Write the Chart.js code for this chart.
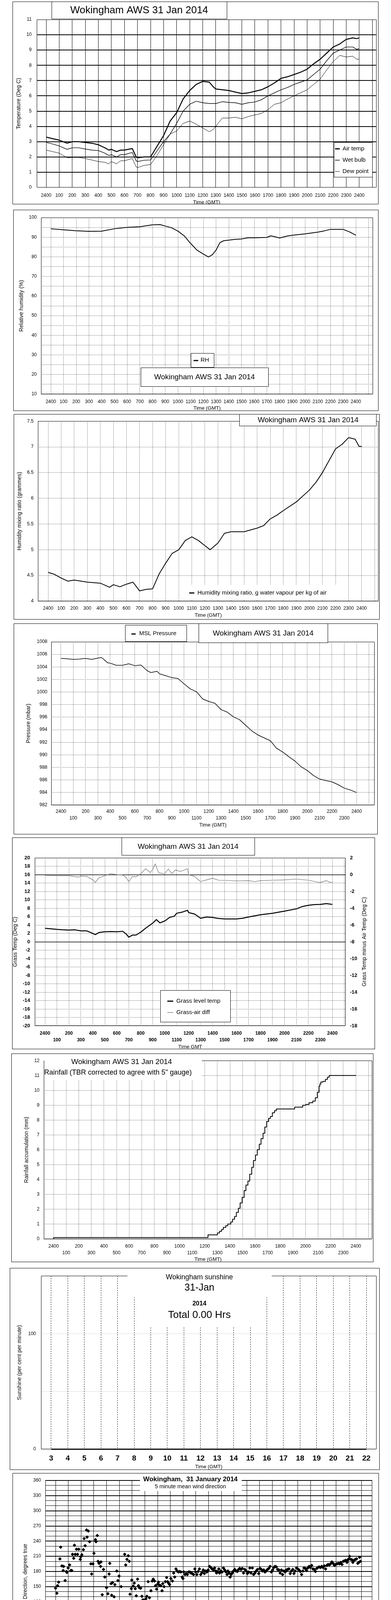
<!DOCTYPE html>
<html>
<head>
<meta charset="utf-8">
<title>Wokingham AWS 31 Jan 2014</title>
<script src="https://cdn.jsdelivr.net/npm/chart.js@4.4.1/dist/chart.umd.min.js"></script>
<style>
  html, body { margin: 0; padding: 0; background: #fff; overflow: hidden; }
  body { position: relative; width: 1000px; height: 5000px; }
  canvas { position: absolute; }
</style>
</head>
<body>
<script>
/* global Chart */
const FAMILY = "'Liberation Sans', Arial, Helvetica, sans-serif";
Chart.defaults.font.family = FAMILY;
Chart.defaults.font.size = 12;
Chart.defaults.color = '#000';
Chart.defaults.animation = false;
Chart.defaults.events = [];

// ---- 1. temperatures ----
const tempHours = [0, 0.5, 1, 1.6, 2, 2.5, 3, 3.5, 4, 4.5, 4.8, 5, 5.4, 5.7, 6, 6.6, 6.9, 7, 7.5, 8,
  8.5, 9, 9.5, 10, 10.5, 11, 11.5, 12, 12.5, 12.8, 13, 13.5, 14, 14.5, 15, 15.5, 16, 16.5, 17, 17.5,
  18, 18.5, 19, 19.5, 20, 20.5, 21, 21.5, 22, 22.5, 23, 23.5, 23.8, 24];
const airTemp = [3.3, 3.2, 3.1, 2.9, 3.0, 3.0, 2.95, 2.9, 2.8, 2.6, 2.45, 2.5, 2.35, 2.45, 2.45, 2.55, 2.0, 1.95, 2.0, 2.0,
  2.7, 3.4, 4.35, 4.9, 5.8, 6.35, 6.75, 6.95, 6.9, 6.6, 6.45, 6.4, 6.35, 6.25, 6.15, 6.2, 6.3, 6.4, 6.6, 6.85,
  7.15, 7.25, 7.4, 7.55, 7.75, 8.1, 8.4, 8.8, 9.2, 9.4, 9.7, 9.8, 9.75, 9.8];
const wetBulb = [2.95, 2.85, 2.72, 2.5, 2.6, 2.6, 2.52, 2.45, 2.42, 2.25, 2.1, 2.15, 2.0, 2.15, 2.15, 2.3, 1.75, 1.7, 1.78, 1.8,
  2.4, 3.0, 3.5, 4.2, 5.0, 5.45, 5.65, 5.55, 5.5, 5.5, 5.5, 5.62, 5.57, 5.55, 5.45, 5.55, 5.6, 5.75, 6.0, 6.2,
  6.4, 6.55, 6.75, 6.9, 7.05, 7.4, 7.75, 8.3, 8.8, 9.0, 9.2, 9.2, 9.05, 9.1];
const dewPoint = [2.45, 2.35, 2.25, 1.95, 1.97, 1.97, 1.9, 1.8, 1.7, 1.65, 1.55, 1.7, 1.55, 1.75, 1.75, 1.9, 1.35, 1.3, 1.45, 1.5,
  2.1, 2.8, 3.5, 3.7, 4.2, 4.35, 4.15, 3.9, 3.65, 3.8, 4.0, 4.55, 4.55, 4.6, 4.5, 4.65, 4.75, 4.85, 5.1, 5.45,
  5.55, 5.8, 6.0, 6.2, 6.4, 6.75, 7.1, 7.7, 8.25, 8.65, 8.55, 8.6, 8.4, 8.4];
const tempTicks = [0, 1, 2, 3, 4, 5, 6, 7, 8, 9, 10, 11];

// ---- 2. relative humidity ----
const rhHours = [0, 1, 2, 3, 4, 5, 6, 7, 8, 8.6, 9, 9.5, 10, 10.5, 11, 11.5, 12, 12.4, 12.7, 13,
  13.3, 13.6, 14, 14.5, 15, 15.5, 16, 17, 17.3, 17.6, 18, 18.6, 19, 20, 21, 21.5, 22, 23, 23.5, 24];
const rhValues = [94.3, 93.8, 93.3, 93.0, 93.1, 94.3, 95.0, 95.3, 96.3, 96.4, 95.7, 94.8, 93.1, 90.65, 86.8, 83.4, 81.4, 79.9, 81.0, 83.4,
  87.2, 88.2, 88.5, 88.9, 89.1, 89.7, 89.7, 89.9, 90.7, 90.3, 89.6, 90.6, 91.0, 91.7, 92.6, 93.2, 94.0, 94.0, 92.7, 91.0];
const rhTicks = [10, 15, 20, 25, 30, 35, 40, 45, 50, 55, 60, 65, 70, 75, 80, 85, 90, 95, 100];

// ---- 3. mixing ratio ----
const mixHours = [0, 0.5, 1, 1.5, 2, 3, 4, 4.7, 5, 5.5, 6, 6.5, 7, 7.5, 8, 8.5, 9, 9.5, 10, 10.5,
  11, 11.5, 12, 12.4, 13, 13.5, 14, 15, 16, 16.5, 17, 17.5, 18, 19, 20, 20.5, 21, 21.5, 22, 22.5,
  23, 23.5, 23.8, 24];
const mixValues = [4.56, 4.52, 4.45, 4.39, 4.41, 4.37, 4.35, 4.27, 4.32, 4.28, 4.33, 4.37, 4.2, 4.23, 4.24, 4.53, 4.74, 4.93, 5.0, 5.18,
  5.25, 5.18, 5.08, 5.0, 5.13, 5.32, 5.35, 5.35, 5.42, 5.47, 5.6, 5.67, 5.76, 5.93, 6.16, 6.31, 6.5, 6.73, 6.96, 7.05,
  7.18, 7.15, 7.01, 7.01];
const mixTicks = [4, 4.5, 5, 5.5, 6, 6.5, 7, 7.5];

// ---- 4. MSL pressure ----
const presHours = [0, 0.5, 1, 1.5, 2, 2.5, 3, 3.3, 3.8, 4, 4.5, 5, 5.5, 6, 6.5, 7, 7.3, 7.8, 8, 8.5,
  9, 9.5, 10, 10.5, 11, 11.5, 12, 12.5, 13, 13.5, 14, 14.5, 15, 15.5, 16, 16.5, 17, 17.5, 18, 18.5,
  19, 19.5, 20, 20.5, 21, 21.5, 22, 22.5, 23, 23.5, 24];
const presValues = [1005.35, 1005.3, 1005.2, 1005.25, 1005.35, 1005.2, 1005.4, 1005.5, 1004.65, 1004.6,
  1004.25, 1004.25, 1004.5, 1004.2, 1004.3, 1003.4, 1003.1, 1003.3, 1002.9, 1002.6,
  1002.3, 1002.15, 1001.3, 1000.5, 1000.05, 998.9, 998.5, 998.2, 997.2, 996.8,
  996.05, 995.6, 994.7, 993.8, 993.15, 992.7, 992.25, 991.05, 990.45, 989.7,
  989.0, 988.1, 987.5, 986.7, 986.15, 985.9, 985.7, 985.25, 984.7, 984.4, 984.0];
const presTicks = [982, 984, 986, 988, 990, 992, 994, 996, 998, 1000, 1002, 1004, 1006, 1008];

// ---- 5. grass temperature ----
const grassHours = [0, 0.5, 1, 1.5, 2, 2.5, 3, 3.5, 3.9, 4.2, 4.5, 5, 5.5, 6, 6.5, 6.8, 7, 7.3, 7.6, 8,
  8.5, 9, 9.3, 9.6, 10, 10.4, 10.8, 11, 11.5, 11.9, 12, 12.5, 13, 13.5, 14, 14.5, 15, 16, 16.5, 17,
  18, 19, 20, 21, 21.5, 22, 22.5, 23, 23.5, 24];
const grassTemp = [3.2, 3.1, 2.95, 2.85, 2.8, 2.85, 2.6, 2.6, 2.1, 1.7, 2.2, 2.4, 2.45, 2.4, 2.5, 1.8, 1.1, 1.6, 1.6, 2.3,
  3.45, 4.45, 5.3, 4.5, 4.95, 5.8, 6.1, 6.8, 7.1, 7.5, 6.95, 6.6, 5.6, 5.9, 5.8, 5.55, 5.45, 5.45, 5.6, 5.9,
  6.45, 6.8, 7.3, 7.85, 8.4, 8.7, 8.85, 8.9, 9.1, 8.9];
const diffHours = [0, 1, 2, 2.8, 3, 3.5, 4, 4.2, 4.5, 5, 5.5, 6, 6.5, 6.8, 7, 7.3, 7.6, 8, 8.4, 8.8,
  9, 9.2, 9.5, 10, 10.3, 10.6, 10.9, 11.3, 11.6, 11.9, 12, 12.5, 13, 13.5, 14, 14.5, 15, 16, 17, 17.5,
  18, 19, 20, 21, 21.5, 22, 22.7, 23, 23.5, 23.8, 24];
const grassAirDiff = [-0.08, -0.13, -0.13, -0.3, -0.18, -0.22, -0.63, -0.93, -0.38, -0.13, 0.12, 0, -0.05, -0.38, -0.85, -0.22, -0.27, 0.12, 0.7, 0.25,
  0.62, 1.28, 0.2, 0.12, 0.67, 0.12, 0.57, 0.37, 0.53, 0.7, 0, -0.22, -0.83, -0.63, -0.43, -0.67, -0.68, -0.75, -0.72, -0.83,
  -0.72, -0.67, -0.63, -0.53, -0.6, -0.67, -0.88, -0.93, -0.72, -0.93, -0.88];
const grassTicks = [-20, -18, -16, -14, -12, -10, -8, -6, -4, -2, 0, 2, 4, 6, 8, 10, 12, 14, 16, 18, 20];
const diffTicks = [-18, -16, -14, -12, -10, -8, -6, -4, -2, 0, 2];

// ---- 6. rainfall ----
const rainHours = [0, 12.26, 13.0, 13.17, 13.33, 13.47, 13.67, 13.83, 14.07, 14.21, 14.37, 14.51, 14.67, 14.81, 14.97, 15.13, 15.27, 15.43, 15.57, 15.73,
  15.87, 16.03, 16.17, 16.33, 16.47, 16.63, 16.77, 16.91, 17.07, 17.21, 17.37, 17.54, 17.68, 19.14, 19.78, 20.02, 20.28, 20.58, 20.78, 20.94,
  21.08, 21.14, 21.22, 21.38, 21.58, 21.74, 21.88, 22.18, 24];
const rainTotal = [0, 0.1, 0.28, 0.41, 0.52, 0.64, 0.78, 0.9, 1.01, 1.15, 1.33, 1.52, 1.79, 2.07, 2.43, 2.8, 3.26, 3.63, 3.9, 4.36,
  4.82, 5.28, 5.65, 6.01, 6.38, 6.75, 7.12, 7.53, 7.9, 8.11, 8.24, 8.49, 8.63, 8.75, 8.87, 9.0, 9.05, 9.17, 9.28, 9.5,
  9.87, 10.28, 10.42, 10.56, 10.6, 10.74, 10.88, 11.0, 11.0];
const rainTicks = [0, 1, 2, 3, 4, 5, 6, 7, 8, 9, 10, 11, 12];

// ---- 7. sunshine ----
const sunHours = [3, 4, 5, 6, 7, 8, 9, 10, 11, 12, 13, 14, 15, 16, 17, 18, 19, 20, 21, 22];
const sunValues = [0, 0, 0, 0, 0, 0, 0, 0, 0, 0, 0, 0, 0, 0, 0, 0, 0, 0, 0, 0];
const sunTicks = [0, 50, 100];

// ---- 8. wind direction (5 min means) ----
const dirHours = [0, 0.1, 0.16, 0.24, 0.34, 0.4, 0.5, 0.6, 0.63, 0.75,
  0.85, 0.89, 0.99, 1.1, 1.19, 1.27, 1.33, 1.42, 1.48, 1.54,
  1.64, 1.72, 1.82, 1.94, 1.98, 2.06, 2.18, 2.24, 2.32, 2.43,
  2.47, 2.57, 2.67, 2.77, 2.83, 2.93, 3.01, 3.13, 3.17, 3.27,
  3.33, 3.41, 3.53, 3.56, 3.66, 3.76, 3.86, 4, 4.1, 4.2,
  4.25, 4.35, 4.4, 4.47, 4.59, 4.65, 4.75, 4.8, 4.89, 4.98,
  5.09, 5.14, 5.24, 5.34, 5.42, 5.5, 5.6, 5.7, 5.78, 5.84,
  5.94, 5.98, 6.09, 6.17, 6.25, 6.33, 6.43, 6.5, 6.57, 6.67,
  6.77, 6.85, 6.92, 6.98, 7.08, 7.16, 7.26, 7.36, 7.48, 7.58,
  7.66, 7.76, 7.84, 7.92, 8.01, 8.07, 8.15, 8.25, 8.35, 8.41,
  8.51, 8.61, 8.71, 8.79, 8.86, 8.94, 9.04, 9.16, 9.26, 9.34,
  9.44, 9.53, 9.63, 9.73, 9.83, 9.93, 9.99, 10.05, 10.15, 10.25,
  10.33, 10.43, 10.53, 10.62, 10.72, 10.82, 10.92, 10.98, 11.08, 11.18,
  11.28, 11.38, 11.48, 11.58, 11.67, 11.77, 11.87, 11.97, 12.07, 12.17,
  12.27, 12.37, 12.47, 12.56, 12.62, 12.7, 12.8, 12.86, 12.96, 13.06,
  13.16, 13.26, 13.36, 13.45, 13.51, 13.61, 13.69, 13.77, 13.85, 13.95,
  14.05, 14.15, 14.25, 14.35, 14.44, 14.54, 14.64, 14.74, 14.84, 14.94,
  15.04, 15.13, 15.23, 15.33, 15.43, 15.53, 15.63, 15.73, 15.83, 15.93,
  16.03, 16.13, 16.22, 16.32, 16.42, 16.52, 16.62, 16.72, 16.82, 16.92,
  17.02, 17.12, 17.21, 17.31, 17.41, 17.51, 17.61, 17.71, 17.8, 17.9,
  18, 18.1, 18.2, 18.3, 18.4, 18.5, 18.6, 18.69, 18.79, 18.89,
  18.99, 19.09, 19.19, 19.29, 19.39, 19.48, 19.58, 19.68, 19.78, 19.88,
  19.98, 20.08, 20.18, 20.28, 20.38, 20.48, 20.57, 20.67, 20.77, 20.87,
  20.97, 21.07, 21.17, 21.27, 21.37, 21.47, 21.56, 21.66, 21.76, 21.86,
  21.96, 22.06, 22.16, 22.26, 22.36, 22.46, 22.56, 22.66, 22.75, 22.85,
  22.91, 22.99, 23.05, 23.15, 23.25, 23.31, 23.41, 23.51, 23.6, 23.7,
  23.78, 23.84, 23.9];
const dirDegrees = [147, 137, 152, 159, 205, 228, 191, 182, 190, 162,
  180, 178, 187, 193, 182, 182, 214, 206, 232, 214,
  224, 214, 224, 204, 209, 213, 223, 245, 231, 262,
  248, 260, 239, 195, 175, 195, 216, 243, 239, 251,
  200, 196, 190, 199, 134, 184, 169, 148, 136, 175,
  196, 156, 133, 158, 130, 154, 103, 181, 162, 171,
  118, 150, 105, 106, 214, 193, 204, 211, 200, 135,
  146, 163, 151, 157, 146, 132, 165, 152, 148, 147,
  131, 124, 119, 122, 126, 131, 160, 128, 142, 161,
  165, 161, 152, 145, 155, 159, 153, 152, 142, 156,
  150, 160, 168, 160, 157, 154, 166, 161, 177, 169,
  185, 181, 179, 180, 179, 169, 166, 179, 174, 176,
  174, 179, 179, 177, 176, 174, 185, 179, 174, 180,
  185, 174, 178, 183, 176, 181, 179, 183, 190, 188,
  185, 183, 187, 181, 177, 180, 185, 177, 181, 179,
  187, 183, 179, 174, 181, 177, 169, 174, 177, 181,
  184, 181, 180, 184, 186, 184, 186, 177, 184, 181,
  176, 179, 187, 177, 187, 174, 177, 181, 184, 176,
  186, 184, 181, 183, 179, 181, 184, 186, 190, 179,
  183, 188, 190, 189, 184, 183, 177, 183, 174, 181,
  179, 183, 184, 185, 176, 181, 184, 176, 181, 187,
  185, 183, 180, 174, 181, 187, 186, 182, 187, 190,
  188, 192, 185, 184, 180, 186, 188, 189, 188, 190,
  188, 191, 185, 192, 194, 193, 195, 199, 196, 192,
  194, 195, 196, 195, 198, 194, 200, 201, 202, 198,
  203, 205, 210, 204, 203, 198, 202, 204, 205, 196,
  198, 208, 200];

// ---- 9. wind speed ----
const meanHours = [0, 0.2, 0.5, 0.8, 1, 1.3, 1.5, 1.8, 2, 2.3, 2.6, 3, 3.4, 3.7, 4, 4.3, 4.6, 5, 5.3, 5.5,
  5.7, 6, 6.5, 7, 7.3, 7.6, 8, 8.5, 8.8, 9, 9.3, 9.6, 10, 10.4, 10.8, 11, 11.3, 11.6, 12, 12.3,
  12.6, 13, 13.3, 13.6, 14, 14.3, 14.6, 15, 15.3, 15.6, 15.9, 16, 16.2, 16.5, 17, 17.5, 18, 18.3, 18.7, 19,
  19.5, 20, 20.3, 20.7, 21, 21.5, 22, 22.3, 22.6, 23, 23.3, 23.6, 23.8, 24];
const meanSpeed = [2.9, 3.6, 3.7, 3.8, 2.3, 3.5, 3.0, 4.0, 2.5, 1.8, 2.0, 1.8, 1.15, 1.55, 1.05, 2.0, 2.3, 1.8, 2.0, 0.6,
  2.0, 2.5, 2.75, 2.75, 3.5, 3.7, 4.0, 4.2, 5.9, 6.4, 5.7, 6.9, 7.1, 7.6, 8.1, 8.6, 9.85, 10.3, 9.8, 10.8,
  9.3, 9.8, 10.3, 9.6, 10.3, 11.5, 9.8, 13.2, 12.0, 12.7, 14.4, 13.7, 11.0, 11.75, 11.5, 11.75, 12.2, 14.4, 10.5, 13.2,
  12.5, 12.7, 11.0, 13.2, 12.2, 11.3, 13.9, 10.8, 12.0, 10.8, 9.8, 10.3, 8.0, 9.3];
// max gust, one reading every 5 minutes from 00:00
const gustSpeed = [
  4.0, 5.8, 5.0, 6.2, 4.6, 5.5, 6.8, 4.8, 5.9, 4.5, 6.3, 5.2,
  2.5, 6.0, 8.0, 3.0, 4.5, 2.0, 5.0, 3.5, 4.0, 6.8, 5.5, 3.2,
  2.8, 4.0, 3.2, 2.0, 3.6, 2.4, 3.0, 1.8, 3.5, 2.6, 2.2, 3.0,
  1.8, 2.8, 2.2, 1.5, 3.0, 1.2, 2.6, 2.0, 1.4, 2.5, 1.6, 1.3,
  2.5, 4.2, 3.0, 5.5, 3.6, 4.8, 2.8, 6.2, 4.0, 3.2, 5.0, 4.4,
  3.5, 2.2, 4.6, 1.8, 3.0, 1.0, 4.4, 2.6, 5.8, 3.6, 4.2, 3.0,
  3.2, 4.8, 3.6, 5.5, 4.0, 3.0, 5.2, 4.2, 6.0, 3.5, 5.8, 7.0,
  3.5, 5.5, 4.8, 6.5, 4.0, 7.2, 5.6, 8.5, 4.8, 7.8, 6.0, 9.0,
  5.0, 8.2, 7.0, 11.0, 6.5, 12.5, 9.0, 14.0, 8.0, 13.5, 9.8, 15.5,
  8.5, 13.0, 7.5, 14.5, 10.0, 12.0, 9.0, 15.0, 8.8, 13.2, 11.0, 14.0,
  9.0, 15.5, 10.5, 13.0, 8.8, 16.5, 11.0, 14.0, 18.0, 10.0, 19.2, 12.0,
  11.5, 21.5, 13.0, 23.0, 12.0, 18.5, 22.0, 13.5, 20.0, 11.0, 24.0, 15.0,
  12.0, 22.5, 14.0, 20.0, 10.5, 24.5, 15.0, 19.0, 11.5, 21.0, 13.0, 18.5,
  12.5, 20.5, 14.0, 23.0, 11.0, 19.0, 15.5, 22.0, 12.0, 17.5, 21.5, 13.5,
  14.0, 24.5, 12.5, 20.0, 16.0, 25.0, 13.0, 22.0, 15.0, 27.0, 14.0, 23.5,
  15.0, 22.0, 13.5, 25.0, 17.0, 21.0, 14.0, 26.0, 16.0, 24.0, 12.5, 27.0,
  12.0, 20.5, 14.5, 23.0, 15.5, 18.0, 22.5, 14.0, 21.0, 16.0, 24.0, 17.0,
  15.0, 26.5, 14.0, 20.0, 17.5, 25.0, 13.5, 21.0, 16.0, 24.0, 15.0, 22.5,
  14.0, 25.0, 31.7, 16.0, 20.5, 27.0, 15.0, 23.0, 18.0, 26.0, 14.5, 21.0,
  13.0, 20.5, 16.0, 25.0, 14.0, 22.0, 18.0, 21.5, 13.5, 23.5, 16.5, 20.0,
  14.0, 21.5, 15.0, 19.0, 22.5, 13.5, 20.0, 16.0, 23.0, 14.5, 19.0, 17.0,
  13.0, 20.0, 15.5, 22.0, 12.5, 18.0, 16.0, 21.0, 11.0, 19.5, 14.0, 17.5,
  13.0, 24.5, 12.0, 19.0, 16.5, 21.5, 12.5, 18.0, 14.0, 20.0, 11.5, 17.0,
  10.0, 16.5, 12.0, 19.0, 10.5, 15.0, 13.0, 17.5, 9.0, 14.5, 6.0, 15.5,
  12.0];
const gustHours = gustSpeed.map((_, i) => i / 12);
// mean speed under 4 kt, plotted again at x10
const lowHours = [0, 0.03, 0.06, 0.09, 0.12, 0.15,
  0.2, 0.25, 0.3, 0.35, 0.4, 0.45, 0.5,
  0.55, 0.6, 0.65, 0.7, 0.75, 0.8,
  0.83, 0.86, 0.89, 0.92, 0.95, 0.98, 1.0,
  1.03, 1.06, 1.09, 1.12, 1.15, 1.18, 1.2,
  1.23, 1.27, 1.31, 1.35, 1.39, 1.43, 1.46, 1.49,
  1.52, 1.55, 1.58, 1.61, 1.64, 1.67,
  1.7, 1.72, 1.74, 1.76, 1.78, 1.8, 1.83, 1.86, 1.89,
  1.91, 1.93, 1.95, 1.97, 1.99, 2.01, 2.03, 2.06, 2.08, 2.1,
  2.13, 2.17, 2.21, 2.25, 2.29, 2.33, 2.37, 2.41, 2.45,
  2.5, 2.56, 2.62, 2.68, 2.74, 2.8, 2.86, 2.92, 2.98,
  3.02, 3.06, 3.1, 3.14, 3.18, 3.22, 3.26,
  3.3, 3.35, 3.4, 3.45, 3.5, 3.55, 3.6, 3.64, 3.68,
  3.72, 3.76, 3.8, 3.84, 3.88, 3.92, 3.95, 3.98,
  4.02, 4.05, 4.08, 4.11, 4.14, 4.17, 4.2,
  4.23, 4.26, 4.29, 4.32, 4.35, 4.38, 4.41, 4.44, 4.47,
  4.5, 4.55, 4.6, 4.65, 4.7, 4.75, 4.8,
  4.83, 4.87, 4.91, 4.95, 4.99, 5.03, 5.07, 5.11, 5.15, 5.18, 5.2,
  5.23, 5.26, 5.29, 5.32, 5.35, 5.38, 5.41, 5.44, 5.47,
  5.5, 5.54, 5.58, 5.62, 5.66, 5.7, 5.74, 5.77, 5.8,
  5.83, 5.86, 5.9, 5.94, 5.98, 6.02, 6.06, 6.1,
  6.13, 6.17, 6.21, 6.25, 6.29, 6.33, 6.37, 6.41, 6.45,
  6.5, 6.56, 6.62, 6.68, 6.74,
  6.8, 6.84, 6.88, 6.92, 6.96, 7.0,
  7.03, 7.06, 7.09, 7.12, 7.15, 7.18, 7.21, 7.24, 7.27,
  7.31, 7.35, 7.39, 7.43, 7.47,
  7.8, 7.86, 7.92, 7.98, 8.04, 8.1, 8.18, 8.26];
const lowSpeedX10 = [29, 30, 31.5, 33, 34, 32.5,
  38, 37.5, 38.5, 36, 37, 39, 38,
  39.5, 38, 37, 36.5, 35.5, 37.5,
  33, 31.5, 38, 39, 36, 34.5, 33,
  30, 28.5, 26.5, 25, 23.5, 22.5, 37.5,
  36.5, 33, 28.5, 25.5, 22.5, 20.5, 19.5, 19,
  25, 24.5, 26, 28, 30, 29,
  33.5, 36, 37.5, 40, 39, 38.5, 35, 32.5, 31,
  30.5, 28, 26.5, 25.5, 24, 22, 21, 34, 33, 31.5,
  30, 28.5, 26, 22, 19, 17.5, 16.5, 15, 13,
  25, 23.5, 22, 21, 20, 19, 18, 17.5, 17,
  23.5, 22, 20.5, 19, 17.5, 16.5, 15.5,
  16, 14.5, 13.5, 12, 11, 9.5, 10, 13, 15,
  14.5, 13.5, 12.5, 12, 13, 14, 10.5, 11,
  16, 17.5, 19, 22, 24, 26, 28,
  20, 18, 16, 15, 22, 24.5, 27, 29.5, 28,
  25, 23.5, 22, 21, 25, 26, 24,
  22, 20, 18.5, 17, 15, 16, 19, 21.5, 23.5, 28.5, 27,
  20, 18, 16, 15, 13, 12.5, 9, 6.5, 5.5,
  16.5, 19, 23, 25.5, 27.5, 31, 33.5, 32, 30,
  24, 23, 26.5, 28.5, 30, 31.5, 32, 33,
  29, 27, 28.5, 29.5, 31.5, 32, 33.5, 36.5, 37.5,
  38, 39.5, 39, 36, 34,
  33, 30, 28, 27, 29, 36,
  26.5, 27.5, 29, 30, 31, 32.5, 33.5, 34.5, 35,
  31.5, 33, 34, 35, 39,
  37, 38.5, 39.5, 40, 39, 39.5, 39, 38.5];

function range(a, b, step) {
  const out = [];
  for (let v = a; v <= b + 1e-9; v += step) out.push(Math.round(v * 100) / 100);
  return out;
}
const dayTicks = range(0, 25, 1);
const dirTicks = range(0, 360, 10);
const speedTicks = range(0, 50, 5);

function pts(xs, ys) {
  return xs.map((x, i) => ({ x, y: ys[i] }));
}
function ticksAt(values) {
  return (scale) => { scale.ticks = values.map((value) => ({ value })); };
}
function hundreds(v) {
  if (v > 24) return '';
  return v === 0 ? '2400' : String(v * 100);
}
function hundredsTwoRow(v) {
  const t = hundreds(v);
  return v % 2 === 0 ? t : ['', t];
}
function clockTwoRow(v) {
  if (v > 24) return '';
  const t = String(v % 24).padStart(2, '0') + ':00';
  return v % 2 === 0 ? t : ['', t];
}

function hourAxis(o, height) {
  return {
    type: 'linear',
    min: o.min,
    max: o.max,
    afterBuildTicks: ticksAt(o.ticks || dayTicks),
    afterFit: (s) => { s.height = height; },
    ticks: { autoSkip: false, maxRotation: 0, minRotation: 0, padding: o.pad, font: o.font || { size: 12 }, callback: o.label || hundreds },
    grid: { drawTicks: false, color: '#000', lineWidth: 1 },
    border: { display: false, dash: o.dash || [] },
    title: { display: true, text: o.title || 'Time (GMT)', font: { size: 13 }, padding: { top: 0, bottom: o.titlePad } },
  };
}

function valueAxis(o, width, position) {
  return {
    type: 'linear',
    position,
    min: o.min,
    max: o.max,
    afterBuildTicks: ticksAt(o.ticks),
    afterFit: (s) => { s.width = width; },
    ticks: { autoSkip: false, padding: o.pad, font: o.font || { size: 12 }, callback: o.label || ((v) => String(v)) },
    grid: { drawTicks: false, display: o.grid !== false, color: o.gridColor || '#000', lineWidth: o.gridWidth || 1 },
    border: { display: false, dash: o.dash || [] },
    title: { display: !!o.title, text: o.title || '', font: { size: 14 }, padding: { top: o.titlePad || 0, bottom: 0 } },
  };
}

function framePlugin(box, deco) {
  const ox = box[0];
  const oy = box[1];
  return {
    id: 'frame',
    beforeDatasetsDraw(chart) {
      const { ctx, chartArea: a } = chart;
      ctx.save();
      ctx.strokeStyle = '#000';
      (deco.solid || []).forEach((s) => {
        const y = Math.round(chart.scales[s.axis].getPixelForValue(s.value)) + 0.5;
        ctx.lineWidth = s.width || 1;
        ctx.beginPath();
        ctx.moveTo(a.left, y);
        ctx.lineTo(a.right, y);
        ctx.stroke();
      });
      ctx.lineWidth = 1;
      const l = Math.round(a.left) + 0.5;
      const r = Math.round(a.right) - 0.5;
      const t = Math.round(a.top) + 0.5;
      const b = Math.round(a.bottom) - 0.5;
      const topFrom = deco.topFrom != null ? deco.topFrom - ox : l;
      ctx.beginPath();
      ctx.moveTo(topFrom, t);
      ctx.lineTo(r, t);
      ctx.lineTo(r, b);
      ctx.lineTo(l, b);
      ctx.lineTo(l, t);
      ctx.stroke();
      ctx.restore();
    },
    afterDraw(chart) {
      const { ctx, width, height } = chart;
      ctx.save();
      (deco.boxes || []).forEach((bx) => {
        const x = bx.r[0] - ox;
        const y = bx.r[1] - oy;
        const w = bx.r[2] - bx.r[0];
        const h = bx.r[3] - bx.r[1];
        ctx.fillStyle = '#fff';
        ctx.fillRect(x, y, w, h);
        if (bx.stroke !== false) {
          ctx.strokeStyle = '#000';
          ctx.lineWidth = 1;
          ctx.strokeRect(x + 0.5, y + 0.5, w - 1, h - 1);
        }
      });
      (deco.keys || []).forEach((k) => {
        if (k.diamond) {
          ctx.beginPath();
          ctx.moveTo(k.x - ox, k.y - oy - k.r);
          ctx.lineTo(k.x - ox + k.r, k.y - oy);
          ctx.lineTo(k.x - ox, k.y - oy + k.r);
          ctx.lineTo(k.x - ox - k.r, k.y - oy);
          ctx.closePath();
          ctx.fillStyle = k.fill;
          ctx.fill();
          ctx.strokeStyle = '#000';
          ctx.lineWidth = 1;
          ctx.stroke();
        } else {
          ctx.strokeStyle = k.color || '#000';
          ctx.lineWidth = k.w;
          ctx.beginPath();
          ctx.moveTo(k.x1 - ox, k.y - oy);
          ctx.lineTo(k.x2 - ox, k.y - oy);
          ctx.stroke();
        }
      });
      (deco.texts || []).forEach((t) => {
        ctx.font = `${t.bold ? 'bold ' : ''}${t.size}px ${FAMILY}`;
        ctx.fillStyle = '#000';
        ctx.textAlign = t.align || 'center';
        ctx.textBaseline = 'middle';
        ctx.save();
        ctx.translate(t.x - ox, t.y - oy);
        if (t.rot) ctx.rotate(t.rot);
        ctx.fillText(t.text, 0, 0);
        ctx.restore();
      });
      ctx.strokeStyle = '#000';
      ctx.lineWidth = 1;
      ctx.strokeRect(0.5, 0.5, width - 1, height - 1);
      ctx.restore();
    },
  };
}

function drawPanel(p) {
  const [bl, bt, br, bb] = p.box;
  const [al, at, ar, ab] = p.area;
  const cv = document.createElement('canvas');
  cv.width = br - bl;
  cv.height = bb - bt;
  cv.style.left = bl + 'px';
  cv.style.top = bt + 'px';
  cv.style.width = (br - bl) + 'px';
  cv.style.height = (bb - bt) + 'px';
  document.body.appendChild(cv);
  const scales = {
    x: hourAxis(p.x, bb - ab),
    y: valueAxis(p.y, al - bl, 'left'),
  };
  if (p.y2) scales.y2 = valueAxis(p.y2, br - ar, 'right');
  return new Chart(cv, {
    type: 'line',
    data: { datasets: p.datasets },
    options: {
      responsive: false,
      devicePixelRatio: 1,
      layout: { padding: { left: 0, top: at - bt, right: p.y2 ? 0 : br - ar, bottom: 0 } },
      scales,
      plugins: { legend: { display: false }, tooltip: { enabled: false } },
      elements: { point: { radius: 0 }, line: { tension: 0, borderJoinStyle: 'round' } },
    },
    plugins: [framePlugin(p.box, p.deco || {})],
  });
}

const DOT = [1, 2];

// 1. temperatures
drawPanel({
  box: [32, 4, 968, 523],
  area: [94, 50, 963, 480],
  x: { min: -0.72, max: 25.32, pad: 13, titlePad: -2.8 },
  y: {
    min: 0, max: 11, ticks: tempTicks, pad: 13, title: 'Temperature (Deg C)', titlePad: 7.6,
    gridWidth: (c) => (c.tick && c.tick.value > 0 && c.tick.value < 11 ? 2 : 0),
  },
  datasets: [
    { data: pts(tempHours, airTemp), borderColor: '#000', borderWidth: 2.5 },
    { data: pts(tempHours, wetBulb), borderColor: '#000', borderWidth: 1.4 },
    { data: pts(tempHours, dewPoint), borderColor: '#000', borderWidth: 1 },
  ],
  deco: {
    boxes: [{ r: [132, 4, 581, 49] }, { r: [854, 364, 953, 454] }],
    keys: [
      { x1: 857, x2: 869, y: 381, w: 3 },
      { x1: 857, x2: 869, y: 410, w: 1.5 },
      { x1: 857, x2: 869, y: 439, w: 1 },
    ],
    texts: [
      { text: 'Wokingham AWS 31 Jan 2014', x: 356, y: 27, size: 26 },
      { text: 'Air temp', x: 876, y: 381, size: 15, align: 'left' },
      { text: 'Wet bulb', x: 876, y: 410, size: 15, align: 'left' },
      { text: 'Dew point', x: 876, y: 439, size: 15, align: 'left' },
    ],
  },
});

// 2. relative humidity
drawPanel({
  box: [34, 537, 968, 1052],
  area: [105, 557, 954, 1009],
  x: { min: -0.77, max: 25.35, pad: 12, titlePad: -0.8, dash: DOT },
  y: {
    min: 10, max: 100, ticks: rhTicks, pad: 11, title: 'Relative humidity (%)', titlePad: 12.6, dash: DOT,
    label: (v) => (v % 10 === 0 ? String(v) : ''),
  },
  datasets: [{ data: pts(rhHours, rhValues), borderColor: '#000', borderWidth: 2 }],
  deco: {
    boxes: [{ r: [488, 904, 548, 941] }, { r: [360, 941, 687, 990] }],
    keys: [{ x1: 495, x2: 507, y: 923, w: 3 }],
    texts: [
      { text: 'RH', x: 513, y: 922, size: 15, align: 'left' },
      { text: 'Wokingham AWS 31 Jan 2014', x: 523, y: 966, size: 19 },
    ],
  },
});

// 3. humidity mixing ratio
drawPanel({
  box: [35, 1060, 971, 1586],
  area: [97, 1067, 968, 1539],
  x: { min: -0.78, max: 25.29, pad: 11, titlePad: 3.2, dash: DOT },
  y: { min: 4, max: 7.5, ticks: mixTicks, pad: 11, title: 'Humidity mixing ratio (grammes)', titlePad: 6.6, dash: DOT },
  datasets: [{ data: pts(mixHours, mixValues), borderColor: '#000', borderWidth: 2 }],
  deco: {
    boxes: [{ r: [612, 1060, 963, 1091] }, { r: [476, 1497, 880, 1537], stroke: false }],
    keys: [{ x1: 484, x2: 497, y: 1518, w: 3 }],
    texts: [
      { text: 'Wokingham AWS 31 Jan 2014', x: 788, y: 1076, size: 19 },
      { text: 'Humidity mixing ratio, g water vapour per kg of air', x: 505, y: 1518, size: 15, align: 'left' },
    ],
  },
});

// 4. MSL pressure
drawPanel({
  box: [35, 1596, 966, 2136],
  area: [131, 1643, 958, 2061],
  x: { min: -0.79, max: 25.46, pad: 9, titlePad: 16.2, dash: DOT, label: hundredsTwoRow, font: { size: 12, lineHeight: 1.35 } },
  y: { min: 982, max: 1008, ticks: presTicks, pad: 10, title: 'Pressure (mbar)', titlePad: 29.6, dash: DOT },
  datasets: [{ data: pts(presHours, presValues), borderColor: '#000', borderWidth: 1.5 }],
  deco: {
    boxes: [{ r: [320, 1600, 478, 1643] }, { r: [508, 1596, 839, 1646] }],
    keys: [{ x1: 336, x2: 347, y: 1623, w: 3 }],
    texts: [
      { text: 'MSL Pressure', x: 356, y: 1622, size: 15, align: 'left' },
      { text: 'Wokingham AWS 31 Jan 2014', x: 673, y: 1622, size: 19 },
    ],
  },
});

// 5. grass temperature
drawPanel({
  box: [31, 2144, 959, 2686],
  area: [89, 2196, 884, 2626],
  x: {
    min: -0.85, max: 25.11, pad: 11, titlePad: -1.8, dash: DOT, title: 'Time GMT',
    label: hundredsTwoRow, font: { size: 12, weight: 'bold', lineHeight: 1.4 },
  },
  y: { min: -20, max: 20, ticks: grassTicks, pad: 12, title: 'Grass Temp (Deg C)', titlePad: 0, dash: DOT, font: { size: 13, weight: 'bold' } },
  y2: { min: -18, max: 2, ticks: diffTicks, pad: 11, grid: false, font: { size: 13, weight: 'bold' } },
  datasets: [
    { data: pts(grassHours, grassTemp), borderColor: '#000', borderWidth: 2.5, yAxisID: 'y' },
    { data: pts(diffHours, grassAirDiff), borderColor: '#808080', borderWidth: 1.4, yAxisID: 'y2' },
  ],
  deco: {
    solid: [{ axis: 'y', value: 0, width: 1.5 }, { axis: 'y2', value: 0, width: 1.5 }],
    boxes: [{ r: [311, 2144, 652, 2190] }, { r: [410, 2535, 590, 2617] }],
    keys: [
      { x1: 428, x2: 443, y: 2563, w: 3 },
      { x1: 428, x2: 443, y: 2592, w: 1.5, color: '#808080' },
    ],
    texts: [
      { text: 'Wokingham AWS 31 Jan 2014', x: 481, y: 2168, size: 19 },
      { text: 'Grass level temp', x: 451, y: 2563, size: 15, align: 'left' },
      { text: 'Grass-air diff', x: 451, y: 2592, size: 15, align: 'left' },
      { text: 'Grass Temp minus Air Temp (Deg C)', x: 932, y: 2411, size: 14, rot: -Math.PI / 2 },
    ],
  },
});

// 6. rainfall
drawPanel({
  box: [29, 2697, 955, 3231],
  area: [112, 2706, 952, 3172],
  x: { min: -0.78, max: 25.3, pad: 11, titlePad: -0.8, dash: DOT, label: hundredsTwoRow, font: { size: 12, lineHeight: 1.35 } },
  y: { min: 0, max: 12, ticks: rainTicks, pad: 11, title: 'Rainfall accumulation (mm)', titlePad: 30.6, dash: DOT },
  datasets: [{ data: pts(rainHours, rainTotal), borderColor: '#000', borderWidth: 2, stepped: 'after', clip: false }],
  deco: {
    boxes: [{ r: [113, 2698, 516, 2765], stroke: false }],
    texts: [
      { text: 'Wokingham AWS 31 Jan 2014', x: 311, y: 2719, size: 19 },
      { text: 'Rainfall (TBR corrected to agree with 5" gauge)', x: 113, y: 2746, size: 18, align: 'left' },
    ],
  },
});

// 7. sunshine
drawPanel({
  box: [25, 3246, 971, 3763],
  area: [105, 3256, 963, 3710],
  x: {
    min: 2.39, max: 22.61, ticks: sunHours, pad: 12, titlePad: 0.2, dash: [3, 3],
    label: (v) => String(v), font: { size: 19, weight: 'bold' },
  },
  y: {
    min: 0, max: 150.3, ticks: sunTicks, pad: 13, title: 'Sunshine (per cent per minute)', titlePad: 16.6,
    dash: DOT, gridColor: '#9a9a9a', label: (v) => (v === 50 ? '' : String(v)),
  },
  datasets: [{ data: pts(sunHours, sunValues), borderColor: '#000', borderWidth: 3, clip: false }],
  deco: {
    boxes: [{ r: [326, 3247, 695, 3321], stroke: false }, { r: [345, 3321, 680, 3398], stroke: false }],
    texts: [
      { text: 'Wokingham sunshine', x: 510, y: 3270, size: 18 },
      { text: '31-Jan', x: 510, y: 3297, size: 25 },
      { text: '2014', x: 510, y: 3338, size: 16, bold: true },
      { text: 'Total 0.00 Hrs', x: 510, y: 3367, size: 26 },
    ],
  },
});

// 8. wind direction
drawPanel({
  box: [32, 3771, 969, 4305],
  area: [116, 3790, 952, 4256],
  x: { min: -0.8, max: 24.83, ticks: range(0, 24, 1), pad: 12, titlePad: 5.2, label: (v) => String(v) },
  y: {
    min: 0, max: 360, ticks: dirTicks, pad: 11, title: 'Direction, degrees true', titlePad: 24.6,
    label: (v) => (v % 30 === 0 ? String(v) : ''),
    gridWidth: (c) => (c.tick && c.tick.value % 30 === 0 ? 2 : 1),
  },
  datasets: [{
    data: pts(dirHours, dirDegrees), showLine: false, pointStyle: 'rectRot', pointRadius: 4.5,
    pointBackgroundColor: '#000', pointBorderColor: '#000', pointBorderWidth: 0,
  }],
  deco: {
    boxes: [{ r: [358, 3771, 618, 3817], stroke: false }],
    texts: [
      { text: 'Wokingham,  31 January 2014', x: 487, y: 3787, size: 17, bold: true },
      { text: '5 minute mean wind direction', x: 487, y: 3806, size: 14 },
    ],
  },
});

// 9. wind speed
drawPanel({
  box: [23, 4314, 960, 4829],
  area: [82, 4358, 954, 4754],
  x: { min: -0.72, max: 25.3, pad: 13, titlePad: 15.2, dash: DOT, label: clockTwoRow, font: { size: 12, lineHeight: 1.2 } },
  y: {
    min: 0, max: 50, ticks: speedTicks, pad: 12, title: 'Speed (knots)', titlePad: 5.6, dash: DOT,
    label: (v) => (v % 10 === 0 ? String(v) : ''),
  },
  datasets: [
    {
      data: pts(lowHours, lowSpeedX10), showLine: false, pointStyle: 'rectRot', pointRadius: 4.5,
      pointBackgroundColor: '#c8c8c8', pointBorderColor: '#000', pointBorderWidth: 1,
    },
    { data: pts(meanHours, meanSpeed), borderColor: '#000', borderWidth: 2 },
    { data: pts(gustHours, gustSpeed), borderColor: '#4d4d4d', borderWidth: 1 },
  ],
  deco: {
    topFrom: 431,
    boxes: [{ r: [729, 4320, 955, 4346] }],
    keys: [
      { x1: 752, x2: 762, y: 4333, w: 3 },
      { diamond: true, x: 840, y: 4333, r: 4, fill: '#c8c8c8' },
    ],
    texts: [
      { text: 'Wokingham,  31 January 2014', x: 258, y: 4337, size: 20 },
      { text: 'Wind speed, 10 min mean / max gust', x: 571, y: 4327, size: 13 },
      { text: 'Mean speed <4 kt shown also at x10 scale', x: 571, y: 4345, size: 13 },
      { text: 'Speed x 1', x: 768, y: 4333, size: 11, align: 'left' },
      { text: 'Speed / 10', x: 851, y: 4333, size: 11, align: 'left' },
    ],
  },
});
</script>
</body>
</html>
